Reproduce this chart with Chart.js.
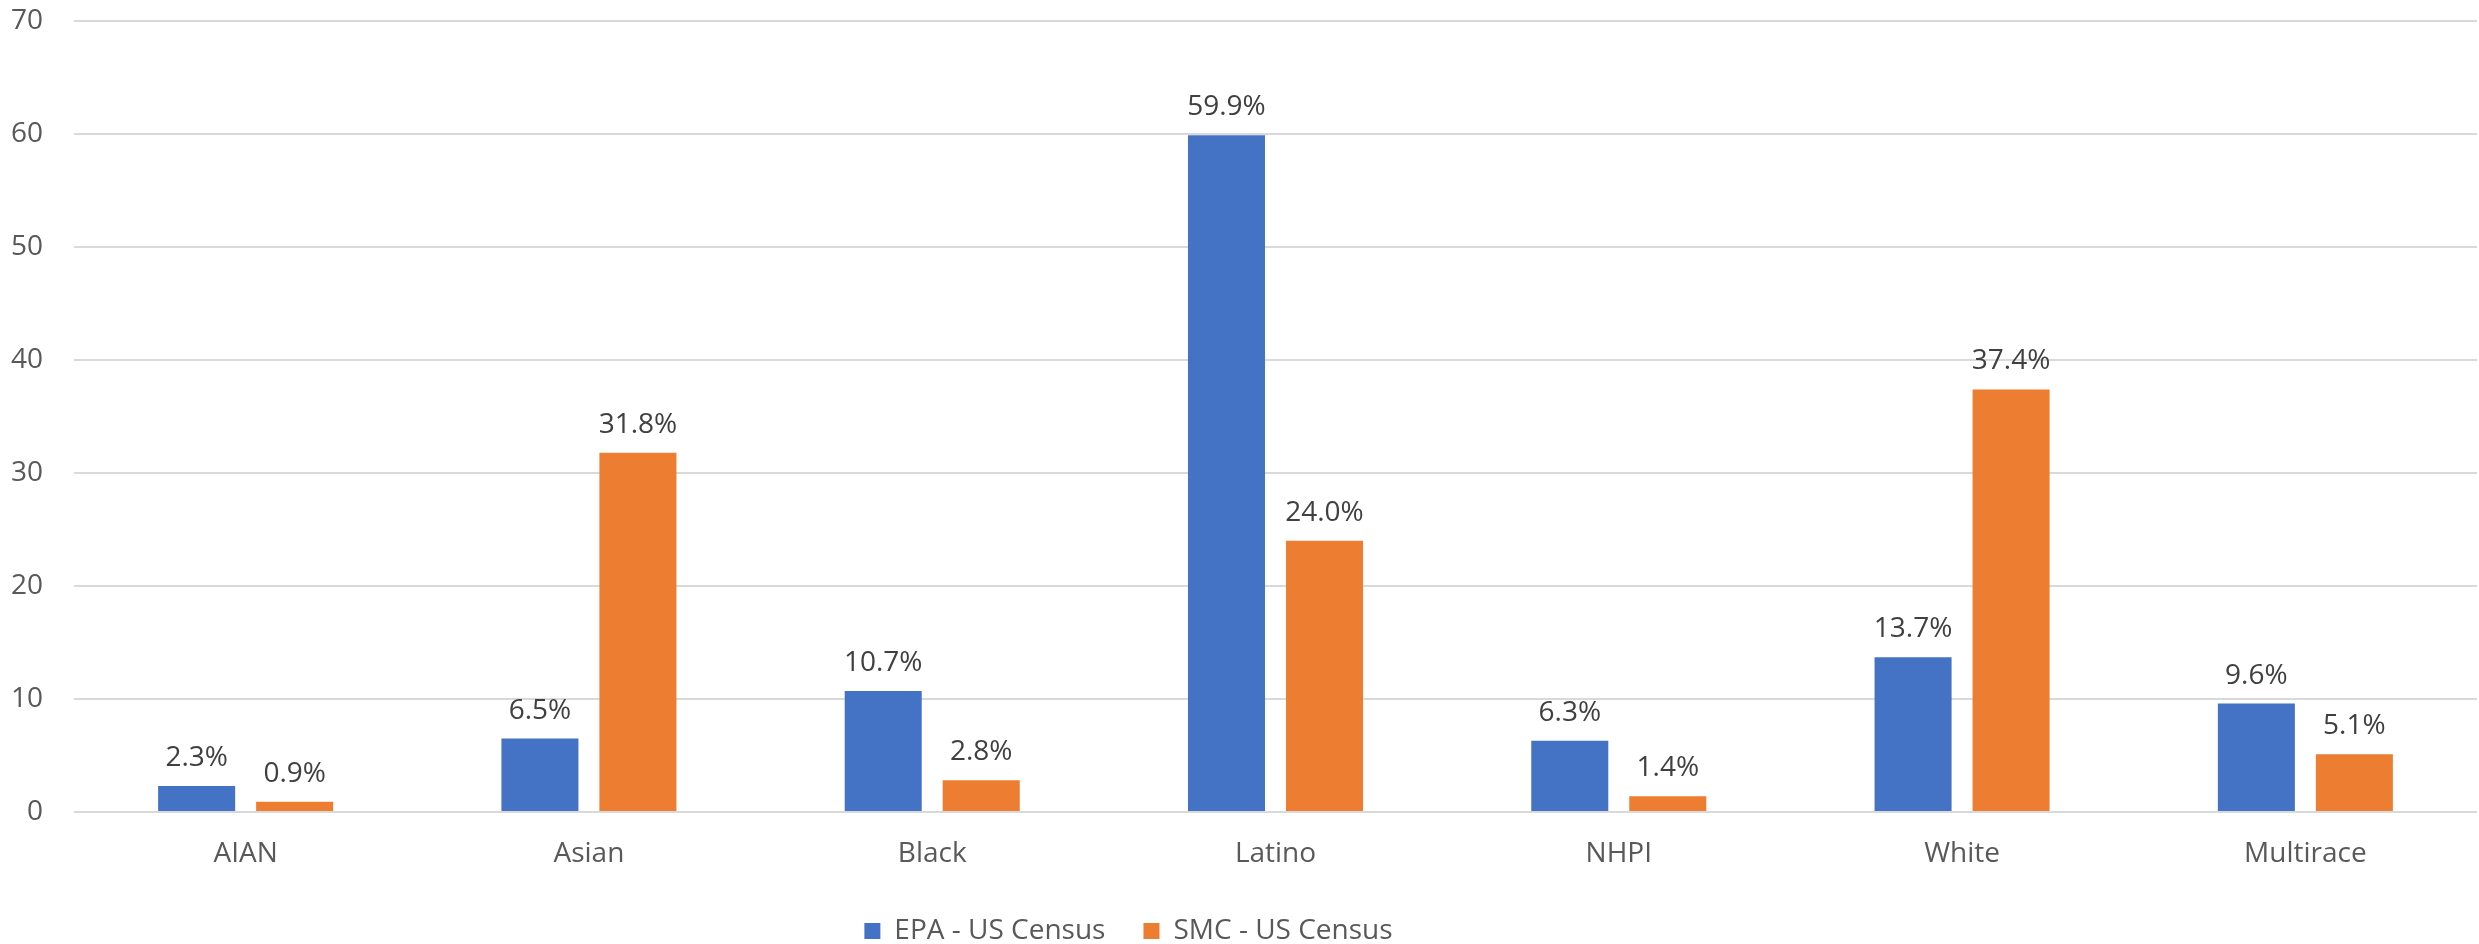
<!DOCTYPE html>
<html>
<head>
<meta charset="utf-8">
<title>EPA vs SMC - US Census</title>
<script src="https://cdn.jsdelivr.net/npm/chart.js@4/dist/chart.umd.min.js"></script>
<style>
  html, body { margin: 0; padding: 0; background: #fff; }
  #wrap { width: 2479px; height: 944px; }
</style>
</head>
<body>
<div id="wrap"><canvas id="chart" width="2479" height="944"></canvas></div>
<script>
var categories = ['AIAN', 'Asian', 'Black', 'Latino', 'NHPI', 'White', 'Multirace'];
var epaValues = [2.3, 6.5, 10.7, 59.9, 6.3, 13.7, 9.6];
var smcValues = [0.9, 31.8, 2.8, 24.0, 1.4, 37.4, 5.1];
var seriesNames = ['EPA - US Census', 'SMC - US Census'];
var yTicks = [0, 10, 20, 30, 40, 50, 60, 70];

var FONT = '"Open Sans", "Liberation Sans", sans-serif';
var AXIS_COLOR = '#595959';
var LABEL_COLOR = '#404040';
var GRID_COLOR = '#d9d9d9';
var LEGEND_SHIFT = -110;

// value labels above each bar, e.g. "31.8%"
var barLabels = {
  id: 'barLabels',
  afterDatasetsDraw: function(chart) {
    var ctx = chart.ctx;
    ctx.save();
    ctx.font = '28px ' + FONT;
    ctx.fillStyle = LABEL_COLOR;
    ctx.textAlign = 'center';
    ctx.textBaseline = 'alphabetic';
    chart.data.datasets.forEach(function(ds, i) {
      chart.getDatasetMeta(i).data.forEach(function(bar, j) {
        ctx.fillText(ds.data[j].toFixed(1) + '%', bar.x, bar.y - 20);
      });
    });
    ctx.restore();
  }
};

// legend sits a little left of centre
var legendOffset = {
  id: 'legendOffset',
  afterLayout: function(chart) {
    if (!chart.legend) return;
    chart.legend.left += LEGEND_SHIFT;
    chart.legend.right += LEGEND_SHIFT;
  }
};

new Chart(document.getElementById('chart'), {
  type: 'bar',
  data: {
    labels: categories,
    datasets: [
      { label: seriesNames[0], data: epaValues, backgroundColor: '#4472C4',
        categoryPercentage: 0.571, barPercentage: 0.786 },
      { label: seriesNames[1], data: smcValues, backgroundColor: '#ED7D31',
        categoryPercentage: 0.571, barPercentage: 0.786 }
    ]
  },
  options: {
    responsive: false,
    animation: false,
    layout: { padding: { top: 21, right: 2, bottom: 5, left: 0 } },
    plugins: {
      tooltip: { enabled: false },
      legend: {
        position: 'bottom',
        maxHeight: 60,
        labels: {
          boxWidth: 16,
          boxHeight: 16,
          padding: 38,
          color: AXIS_COLOR,
          font: { family: FONT, size: 28 }
        }
      }
    },
    scales: {
      x: {
        grid: { display: false, drawTicks: false },
        border: { display: false },
        ticks: { color: AXIS_COLOR, font: { family: FONT, size: 28 }, padding: 25 },
        afterFit: function(scale) { scale.height = 67; }
      },
      y: {
        min: 0,
        max: 70,
        afterBuildTicks: function(scale) {
          scale.ticks = yTicks.map(function(v) { return { value: v }; });
        },
        // invisible tick marks keep the labels off the plot without padding the top
        grid: { color: GRID_COLOR, lineWidth: 2, drawTicks: true, tickLength: 31, tickColor: 'rgba(0,0,0,0)' },
        border: { display: false },
        ticks: { color: AXIS_COLOR, font: { family: FONT, size: 28 }, padding: 0 },
        afterFit: function(scale) { scale.width = 74; }
      }
    }
  },
  plugins: [barLabels, legendOffset]
});
</script>
</body>
</html>
